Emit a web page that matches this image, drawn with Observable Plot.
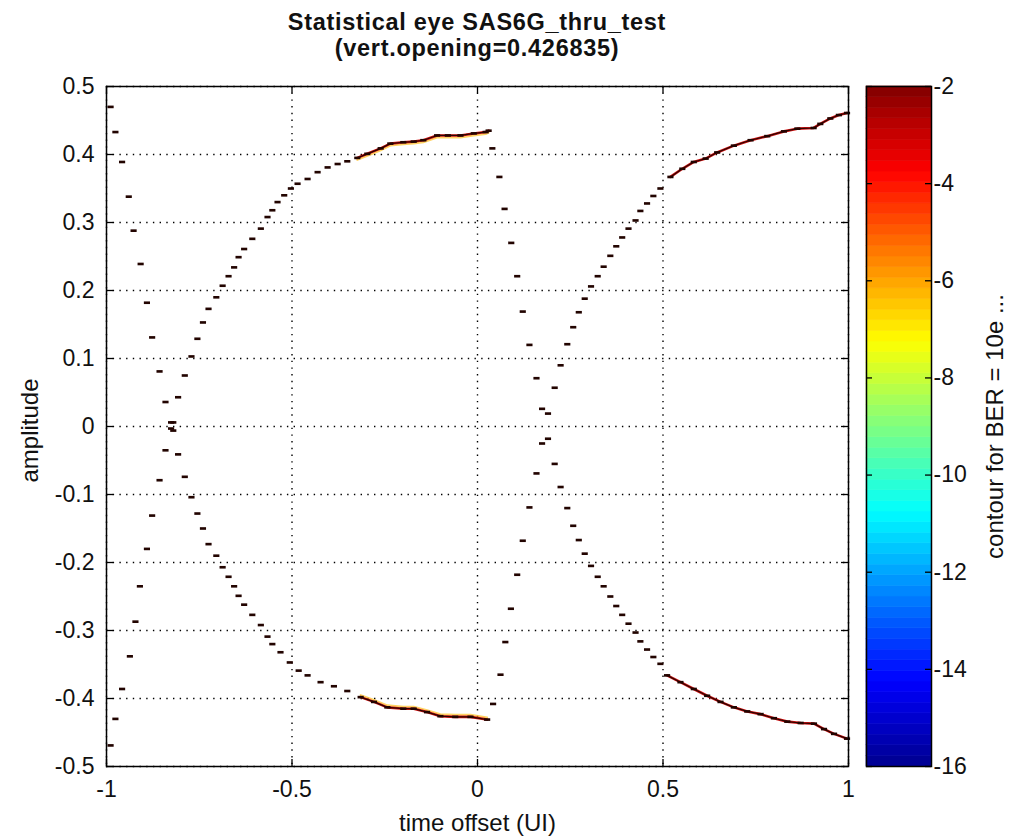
<!DOCTYPE html>
<html><head><meta charset="utf-8">
<script src="https://cdn.jsdelivr.net/npm/d3@7"></script>
<script src="https://cdn.jsdelivr.net/npm/@observablehq/plot@0.6"></script>
<style>
html,body{margin:0;padding:0;background:#fff;}
#wrap{position:relative;width:1012px;height:838px;overflow:hidden;font-family:"Liberation Sans",Arial,Helvetica,sans-serif;}
#wrap svg{position:absolute;left:0;top:0;overflow:visible;background:transparent !important;}
#title{position:absolute;left:106px;width:742px;top:9px;text-align:center;font-weight:bold;font-size:23.5px;letter-spacing:0.7px;line-height:26px;color:#111;z-index:5;}
</style></head>
<body><div id="wrap"><div id="title">Statistical eye SAS6G_thru_test<br>(vert.opening=0.426835)</div></div>
<script>
// ---- tick values & labels ----
const xTicks = [-1, -0.5, 0, 0.5, 1];
const xTickLabels = ["-1", "-0.5", "0", "0.5", "1"];
const yTicks = [0.5, 0.4, 0.3, 0.2, 0.1, 0, -0.1, -0.2, -0.3, -0.4, -0.5];
const yTickLabels = ["0.5", "0.4", "0.3", "0.2", "0.1", "0", "-0.1", "-0.2", "-0.3", "-0.4", "-0.5"];
const cbTicks = [-2, -4, -6, -8, -10, -12, -14, -16];
const cbTickLabels = ["-2", "-4", "-6", "-8", "-10", "-12", "-14", "-16"];
const cbDomain = [-16, -2];

// ---- contour points ----
// left eye, outer left boundary
const leftEdgeUpperX = [-0.989, -0.976, -0.958, -0.94, -0.927, -0.908, -0.891, -0.877, -0.857, -0.841, -0.826];
const leftEdgeUpperY = [0.47, 0.433, 0.389, 0.338, 0.288, 0.239, 0.182, 0.131, 0.081, 0.036, 0.006];
const leftEdgeLowerX = [-0.826, -0.841, -0.857, -0.877, -0.891, -0.91, -0.922, -0.937, -0.958, -0.976, -0.989];
const leftEdgeLowerY = [-0.003, -0.035, -0.079, -0.131, -0.18, -0.235, -0.287, -0.338, -0.386, -0.43, -0.469];
// left eye, right boundary
const leftEyeUpperX = [-0.82, -0.807, -0.789, -0.771, -0.755, -0.74, -0.725, -0.704, -0.687, -0.671, -0.656, -0.644, -0.629, -0.607, -0.584, -0.566, -0.553, -0.539, -0.521, -0.503, -0.485, -0.458, -0.431, -0.404, -0.377, -0.351, -0.324, -0.297, -0.261, -0.235, -0.2, -0.172, -0.146, -0.109, -0.08, -0.046, -0.01, 0.022, 0.03];
const leftEyeUpperY = [0.006, 0.043, 0.075, 0.103, 0.129, 0.153, 0.173, 0.19, 0.207, 0.221, 0.234, 0.249, 0.261, 0.276, 0.291, 0.308, 0.318, 0.33, 0.34, 0.35, 0.357, 0.364, 0.374, 0.381, 0.386, 0.39, 0.395, 0.401, 0.409, 0.416, 0.418, 0.419, 0.421, 0.428, 0.428, 0.428, 0.431, 0.433, 0.435];
const leftEyeLowerX = [-0.82, -0.807, -0.789, -0.771, -0.755, -0.74, -0.725, -0.704, -0.687, -0.671, -0.656, -0.644, -0.629, -0.607, -0.584, -0.566, -0.553, -0.531, -0.506, -0.482, -0.458, -0.423, -0.387, -0.351, -0.315, -0.279, -0.243, -0.2, -0.172, -0.136, -0.1, -0.06, -0.019, 0.026];
const leftEyeLowerY = [-0.006, -0.041, -0.074, -0.104, -0.128, -0.15, -0.173, -0.19, -0.207, -0.221, -0.235, -0.249, -0.262, -0.277, -0.292, -0.309, -0.32, -0.332, -0.347, -0.359, -0.366, -0.376, -0.382, -0.389, -0.398, -0.405, -0.413, -0.415, -0.415, -0.42, -0.426, -0.427, -0.427, -0.431];
// right eye, left boundary
const rightEdgeUpperX = [0.04, 0.059, 0.073, 0.091, 0.107, 0.122, 0.14, 0.159, 0.174];
const rightEdgeUpperY = [0.409, 0.367, 0.32, 0.27, 0.221, 0.169, 0.12, 0.071, 0.026];
const rightEdgeLowerX = [0.174, 0.159, 0.14, 0.122, 0.107, 0.09, 0.075, 0.062, 0.042];
const rightEdgeLowerY = [-0.025, -0.069, -0.119, -0.168, -0.218, -0.268, -0.317, -0.365, -0.408];
// right eye, right boundary
const rightEyeUpperX = [0.19, 0.208, 0.224, 0.242, 0.258, 0.273, 0.289, 0.306, 0.324, 0.34, 0.358, 0.374, 0.39, 0.407, 0.426, 0.439, 0.457, 0.474, 0.493, 0.52, 0.552, 0.583, 0.615, 0.646, 0.691, 0.736, 0.781, 0.826, 0.862, 0.906, 0.924, 0.951, 0.974, 0.996];
const rightEyeUpperY = [0.019, 0.057, 0.09, 0.121, 0.146, 0.168, 0.188, 0.206, 0.221, 0.235, 0.251, 0.265, 0.278, 0.291, 0.303, 0.317, 0.328, 0.339, 0.35, 0.367, 0.379, 0.389, 0.394, 0.403, 0.413, 0.421, 0.427, 0.434, 0.438, 0.439, 0.445, 0.453, 0.458, 0.461];
const rightEyeLowerX = [0.19, 0.208, 0.224, 0.242, 0.258, 0.273, 0.289, 0.306, 0.324, 0.34, 0.358, 0.374, 0.39, 0.407, 0.426, 0.439, 0.457, 0.474, 0.493, 0.511, 0.547, 0.583, 0.619, 0.655, 0.691, 0.727, 0.763, 0.799, 0.835, 0.871, 0.907, 0.934, 0.961, 0.996];
const rightEyeLowerY = [-0.018, -0.055, -0.089, -0.12, -0.146, -0.167, -0.187, -0.205, -0.221, -0.235, -0.25, -0.264, -0.277, -0.29, -0.303, -0.316, -0.328, -0.339, -0.349, -0.366, -0.376, -0.386, -0.396, -0.405, -0.413, -0.419, -0.423, -0.429, -0.434, -0.436, -0.437, -0.445, -0.452, -0.459];

// jet colormap (MATLAB)
const jetStops = [-16, -14.25, -10.75, -7.25, -3.75, -2];
const jetColors = ["#00008f", "#0000ff", "#00ffff", "#ffff00", "#ff0000", "#800000"];

const curves = [
  {name: "leftEdgeUpper", side: "up", x: leftEdgeUpperX, y: leftEdgeUpperY},
  {name: "leftEdgeLower", side: "down", x: leftEdgeLowerX, y: leftEdgeLowerY},
  {name: "leftEyeUpper", side: "up", x: leftEyeUpperX, y: leftEyeUpperY},
  {name: "leftEyeLower", side: "down", x: leftEyeLowerX, y: leftEyeLowerY},
  {name: "rightEdgeUpper", side: "up", x: rightEdgeUpperX, y: rightEdgeUpperY},
  {name: "rightEdgeLower", side: "down", x: rightEdgeLowerX, y: rightEdgeLowerY},
  {name: "rightEyeUpper", side: "up", x: rightEyeUpperX, y: rightEyeUpperY},
  {name: "rightEyeLower", side: "down", x: rightEyeLowerX, y: rightEyeLowerY}
];
const rows = curves.flatMap(c => c.x.map((x, i) => ({curve: c.name, side: c.side, x, y: c.y[i]})));
const isLeftDense = d => d.curve.startsWith("leftEye") && d.x >= -0.33;
const isRightDense = d => d.curve.startsWith("rightEye") && d.x >= 0.5;
const isDense = d => isLeftDense(d) || isRightDense(d);

// horizontal dash symbol
const dash = {draw(context, size) {
  const r = Math.sqrt(size / Math.PI);
  context.rect(-r * 1.4, -r * 0.6, r * 2.8, r * 1.2);
}};

const FONT = "'Liberation Sans', Arial, Helvetica, sans-serif";
const W = 1012, H = 838;
const ML = 106, MR = 164, MT = 86, MB = 72;
const PW = W - ML - MR, PH = H - MT - MB;
const dotted = {stroke: "#000", strokeWidth: 1.4, strokeDasharray: "1.4,5.3"};
const tickStyle = {stroke: "#000", strokeWidth: 1.3};

const main = Plot.plot({
  width: W, height: H,
  marginLeft: ML, marginRight: MR, marginTop: MT, marginBottom: MB,
  style: `background: transparent; font-family: ${FONT}; color:#111;`,
  x: {domain: [-1, 1], axis: null},
  y: {domain: [-0.5, 0.5], axis: null},
  marks: [
    Plot.ruleX(xTicks, {x: d => d, ...dotted}),
    Plot.ruleY(yTicks, {y: d => d, ...dotted}),
    Plot.line(rows, {filter: d => isLeftDense(d) && d.side === "up", x: "x", y: "y", z: "curve", stroke: "#ffc020", strokeWidth: 2, dy: 2, strokeOpacity: 0.7}),
    Plot.line(rows, {filter: d => isLeftDense(d) && d.side === "down", x: "x", y: "y", z: "curve", stroke: "#ffc020", strokeWidth: 2, dy: -2, strokeOpacity: 0.7}),
    Plot.line(rows, {filter: isDense, x: "x", y: "y", z: "curve", stroke: "#d01010", strokeWidth: 2.6}),
    Plot.line(rows, {filter: isDense, x: "x", y: "y", z: "curve", stroke: "#2a0500", strokeWidth: 1.2}),
    Plot.dot(rows, {x: "x", y: "y", r: 2.2, symbol: dash, fill: "#220400", stroke: "none"}),
    Plot.tickX(xTicks, {x: d => d, insetTop: PH - 7, ...tickStyle}),
    Plot.tickX(xTicks, {x: d => d, insetBottom: PH - 7, ...tickStyle}),
    Plot.tickY(yTicks, {y: d => d, insetRight: PW - 7, ...tickStyle}),
    Plot.tickY(yTicks, {y: d => d, insetLeft: PW - 7, ...tickStyle}),
    Plot.frame({stroke: "#000", strokeWidth: 1.5}),
    Plot.text(yTicks.map((v, i) => ({v, label: yTickLabels[i]})), {y: "v", text: "label", frameAnchor: "left", textAnchor: "end", dx: -12, fontSize: 23, fill: "#111", fontFamily: FONT}),
    Plot.text(xTicks.map((v, i) => ({v, label: xTickLabels[i]})), {x: "v", text: "label", frameAnchor: "bottom", lineAnchor: "top", dy: 14, fontSize: 23, fill: "#111", fontFamily: FONT}),
    Plot.text(["time offset (UI)"], {text: d => d, frameAnchor: "bottom", textAnchor: "middle", dy: 64, fontSize: 24, fill: "#111", fontFamily: FONT}),
    Plot.text(["amplitude"], {text: d => d, frameAnchor: "left", textAnchor: "middle", dx: -76, dy: 4, rotate: -90, fontSize: 24, fill: "#111", fontFamily: FONT})
  ]
});

const nBands = 64;
const bands = d3.range(nBands).map(i => {
  const step = (cbDomain[1] - cbDomain[0]) / nBands;
  const lo = cbDomain[0] + i * step;
  return {lo, hi: lo + step, mid: lo + step / 2};
});
const CL = 866, CR = 931;
const CW = CR - CL;
const cb = Plot.plot({
  width: W, height: H,
  marginLeft: CL, marginRight: W - CR, marginTop: MT, marginBottom: MB,
  style: `background: transparent; font-family: ${FONT}; color:#111;`,
  x: {axis: null},
  y: {domain: cbDomain, axis: null},
  color: {type: "linear", domain: jetStops, range: jetColors, interpolate: "rgb"},
  marks: [
    Plot.rect(bands, {y1: "lo", y2: "hi", fill: "mid", stroke: "mid", strokeWidth: 0.6}),
    Plot.tickY(cbTicks, {y: d => d, insetRight: CW - 6, ...tickStyle}),
    Plot.tickY(cbTicks, {y: d => d, insetLeft: CW - 6, ...tickStyle}),
    Plot.frame({stroke: "#000", strokeWidth: 1.5}),
    Plot.text(cbTicks.map((v, i) => ({v, label: cbTickLabels[i]})), {y: "v", text: "label", frameAnchor: "right", textAnchor: "start", dx: 2, fontSize: 23, fill: "#111", fontFamily: FONT}),
    Plot.text(["contour for BER = 10e ..."], {text: d => d, frameAnchor: "right", textAnchor: "middle", dx: 64, rotate: -90, fontSize: 24, fill: "#111", fontFamily: FONT})
  ]
});

const wrap = document.getElementById("wrap");
wrap.insertBefore(main, wrap.firstChild);
wrap.insertBefore(cb, main.nextSibling);
</script></body></html>
